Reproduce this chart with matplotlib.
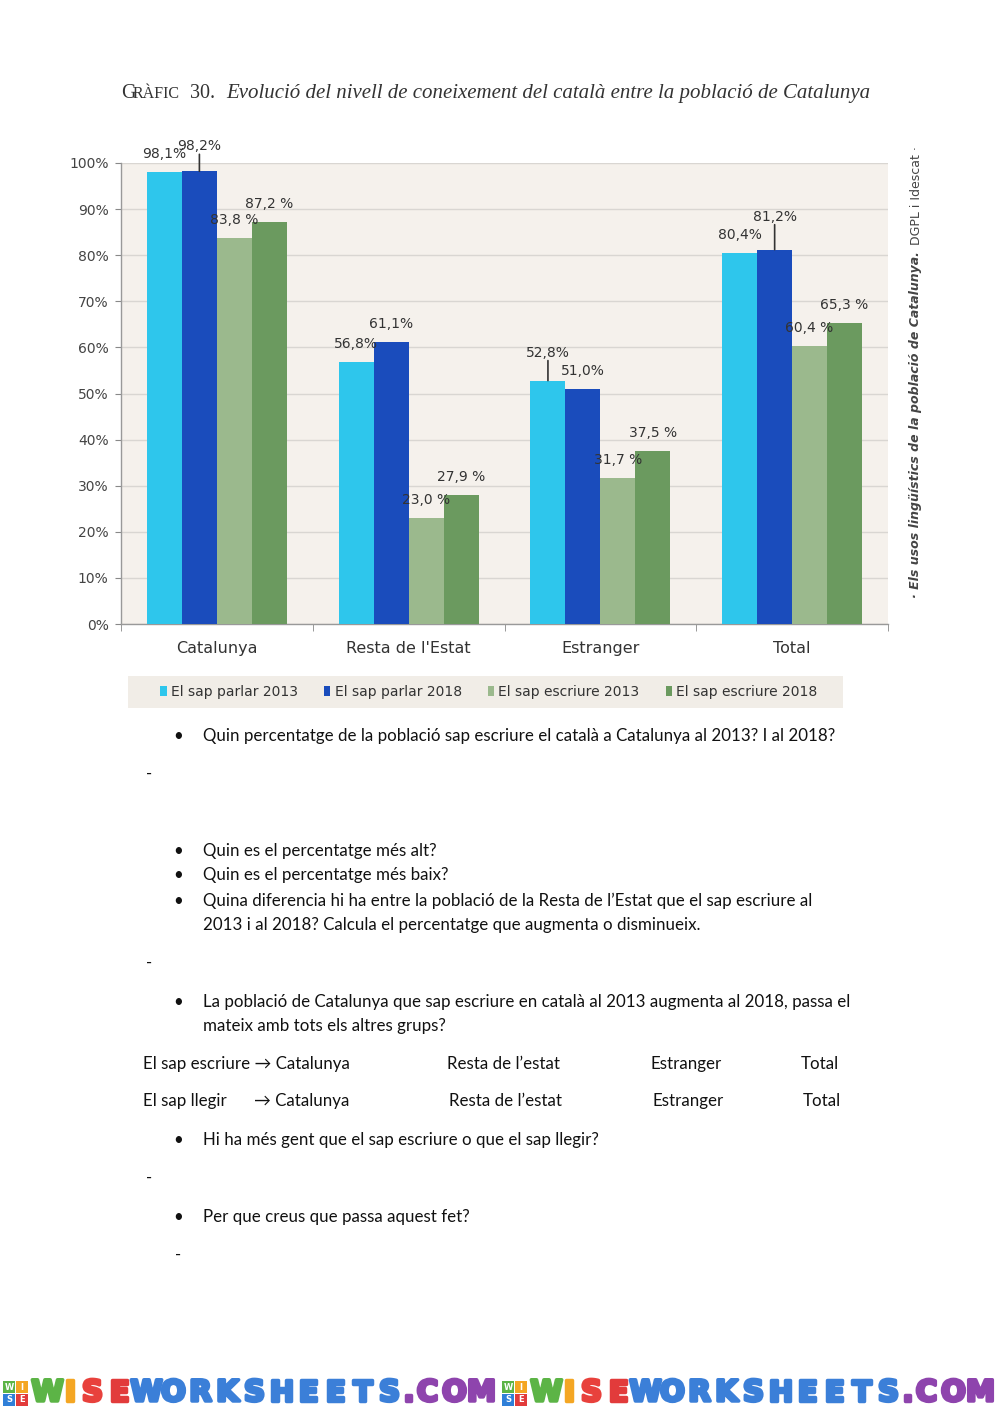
import matplotlib
matplotlib.use("Agg")
import matplotlib.pyplot as plt
import matplotlib.patheffects as pe
from matplotlib.patches import Rectangle
import numpy as np

W, H = 1000, 1413

categories = ["Catalunya", "Resta de l'Estat", "Estranger", "Total"]
series_names = ["El sap parlar 2013", "El sap parlar 2018",
                "El sap escriure 2013", "El sap escriure 2018"]
parlar_2013 = [98.1, 56.8, 52.8, 80.4]
parlar_2018 = [98.2, 61.1, 51.0, 81.2]
escriure_2013 = [83.8, 23.0, 31.7, 60.4]
escriure_2018 = [87.2, 27.9, 37.5, 65.3]
series_values = [parlar_2013, parlar_2018, escriure_2013, escriure_2018]
label_suffix = ["%", "%", " %", " %"]
yticks = list(range(0, 101, 10))

# style
bar_colors = ["#2ec6ec", "#1a4cbc", "#9bb98d", "#6b9a5f"]
bg_color = "#f5f1ec"
text_dark = "#333333"
chart_font = ["DejaVu Sans"]
# labels lifted higher with a leader line: (series, category) -> offset px
leader = {(1, 0): 25, (0, 2): 28, (1, 3): 33}
label_gap = 18  # px above bar top (text centre)


def fx(x):
    return x / W


def fy(y):
    return 1 - y / H


fig = plt.figure(figsize=(W / 100, H / 100), dpi=100)
fig.patch.set_facecolor("white")

# ---- title (small caps faked with two sizes) ----
title_base = 98
fig.text(fx(121), fy(title_base), "G", family="Liberation Serif", fontsize=14.5,
         color=text_dark, va="baseline")
fig.text(fx(133), fy(title_base), "RÀFIC", family="Liberation Serif", fontsize=11.5,
         color=text_dark, va="baseline")
fig.text(fx(190), fy(title_base), "30.", family="Liberation Serif", fontsize=14.5,
         color=text_dark, va="baseline")
fig.text(fx(226), fy(title_base),
         "Evolució del nivell de coneixement del català entre la població de Catalunya",
         family="Liberation Serif", style="italic", fontsize=15,
         color=text_dark, va="baseline")

# ---- chart ----
ax = fig.add_axes([fx(121), fy(624), (888 - 121) / W, (624 - 163) / H])
ax.set_facecolor(bg_color)
x = np.arange(len(categories))
bw = 35 / 192
bars = []
for j, vals in enumerate(series_values):
    pos = x + (j - 1.5) * bw
    b = ax.bar(pos, vals, width=bw, color=bar_colors[j], label=series_names[j],
               zorder=3, linewidth=0)
    bars.append(b)
    for i, v in enumerate(vals):
        txt = f"{v:.1f}".replace(".", ",") + label_suffix[j]
        off = leader.get((j, i), label_gap)
        ax.annotate(txt, (pos[i], v), xytext=(0, off * 0.72),
                    textcoords="offset points", ha="center", va="center",
                    fontsize=10, color=text_dark, family=chart_font, zorder=5)
        if (j, i) in leader:
            ax.annotate("", (pos[i], v), xytext=(0, (off - 8) * 0.72),
                        textcoords="offset points",
                        arrowprops=dict(arrowstyle="-", color="#333333", lw=1.2,
                                        shrinkA=0, shrinkB=0), zorder=5)

ax.set_xlim(-0.5, len(categories) - 0.5)
ax.set_ylim(0, 100)
ax.set_yticks(yticks)
ax.set_yticklabels([f"{t}%" for t in yticks], fontsize=10, color="#444444",
                   family=chart_font)
ax.yaxis.grid(True, color="#d9d6d2", lw=1, zorder=0)
ax.set_axisbelow(True)
ax.tick_params(axis="y", length=4, color="#888888", pad=5)
ax.set_xticks(x)
ax.set_xticklabels(categories, fontsize=11.5, color=text_dark, family=chart_font)
ax.tick_params(axis="x", length=0, pad=12)
ax.set_xticks(np.arange(-0.5, len(categories)), minor=True)
ax.tick_params(axis="x", which="minor", length=5, color="#888888")
for s in ["top", "right"]:
    ax.spines[s].set_visible(False)
for s in ["left", "bottom"]:
    ax.spines[s].set_color("#999999")
    ax.spines[s].set_linewidth(1)

# legend
fig.add_artist(Rectangle((fx(128), fy(708)), (843 - 128) / W, 32 / H,
                         transform=fig.transFigure, facecolor="#f1ede7",
                         edgecolor="none"))
fig.legend(handles=bars, labels=series_names, loc="center",
           bbox_to_anchor=(fx(489), fy(692)), ncol=4, frameon=False,
           handlelength=0.45, handleheight=0.8, handletextpad=0.3,
           columnspacing=1.9, prop=dict(family=chart_font, size=10))
for t in fig.legends[0].get_texts():
    t.set_color(text_dark)

# source, vertical
fig.text(fx(916), fy(598), "· Els usos lingüístics de la població de Catalunya.",
         rotation=90, rotation_mode="anchor", ha="left", va="center",
         fontsize=9, style="italic", weight="bold", color="#444444")
fig.text(fx(916), fy(245), "DGPL i Idescat ·", rotation=90,
         rotation_mode="anchor", ha="left", va="center", fontsize=9,
         color="#444444")

# ---- worksheet text ----
body = dict(family=["Lato", "DejaVu Sans"], fontsize=12.2, color="#111111",
            va="center")
bullets = [
    (736, ["Quin percentatge de la població sap escriure el català a Catalunya al 2013? I al 2018?"]),
    (851, ["Quin es el percentatge més alt?"]),
    (875, ["Quin es el percentatge més baix?"]),
    (901, ["Quina diferencia hi ha entre la població de la Resta de l’Estat que el sap escriure al",
           "2013 i al 2018? Calcula el percentatge que augmenta o disminueix."]),
    (1002, ["La població de Catalunya que sap escriure en català al 2013 augmenta al 2018, passa el",
            "mateix amb tots els altres grups?"]),
    (1140, ["Hi ha més gent que el sap escriure o que el sap llegir?"]),
    (1217, ["Per que creus que passa aquest fet?"]),
]
for y0, lines in bullets:
    fig.text(fx(178), fy(y0), "•", **{**body, "ha": "center"})
    for k, line in enumerate(lines):
        fig.text(fx(203), fy(y0 + 24 * k), line, **body)

for xd, yd in [(146, 774), (146, 963), (146, 1178), (175, 1255)]:
    fig.text(fx(xd), fy(yd), "-", **body)

row_items = [
    (1064, [(143, "El sap escriure → Catalunya"), (447, "Resta de l’estat"),
            (650, "Estranger"), (801, "Total")]),
    (1101, [(143, "El sap llegir"), (254, "→ Catalunya"), (449, "Resta de l’estat"),
            (652, "Estranger"), (803, "Total")]),
]
for yr, items in row_items:
    for xr, t in items:
        fig.text(fx(xr), fy(yr), t, **body)

# ---- footer ----
word = "WISEWORKSHEETS.COM"
letter_colors = ["#5cb446", "#f4a623", "#e8413c", "#e23b3b"] + ["#3b7fd8"] * 10 + ["#8e44ad"] * 4
logo_cols = [["#5cb446", "#f4a623"], ["#2f7fd8", "#e23b3b"]]
logo_chars = [["W", "I"], ["S", "E"]]
for start in (3, 502):
    for r in range(2):
        for c in range(2):
            x0, y0 = start + c * 13, 1381 + r * 13
            fig.add_artist(Rectangle((fx(x0), fy(y0 + 12)), 12 / W, 12 / H,
                                     transform=fig.transFigure,
                                     facecolor=logo_cols[r][c], edgecolor="none"))
            fig.text(fx(x0 + 6), fy(y0 + 6), logo_chars[r][c], color="white",
                     fontsize=6, weight="bold", ha="center", va="center")
    xs = start + 31
    for ch, col in zip(word, letter_colors):
        w = 11 if ch == "." else (18 if ch == "I" else 27)
        fig.text(fx(xs + w / 2), fy(1393), ch, color=col, fontsize=21,
                 weight="bold", ha="center", va="center",
                 path_effects=[pe.withStroke(linewidth=2.5, foreground=col),
                               pe.Normal()])
        xs += w

fig.savefig("out.png", dpi=100)
